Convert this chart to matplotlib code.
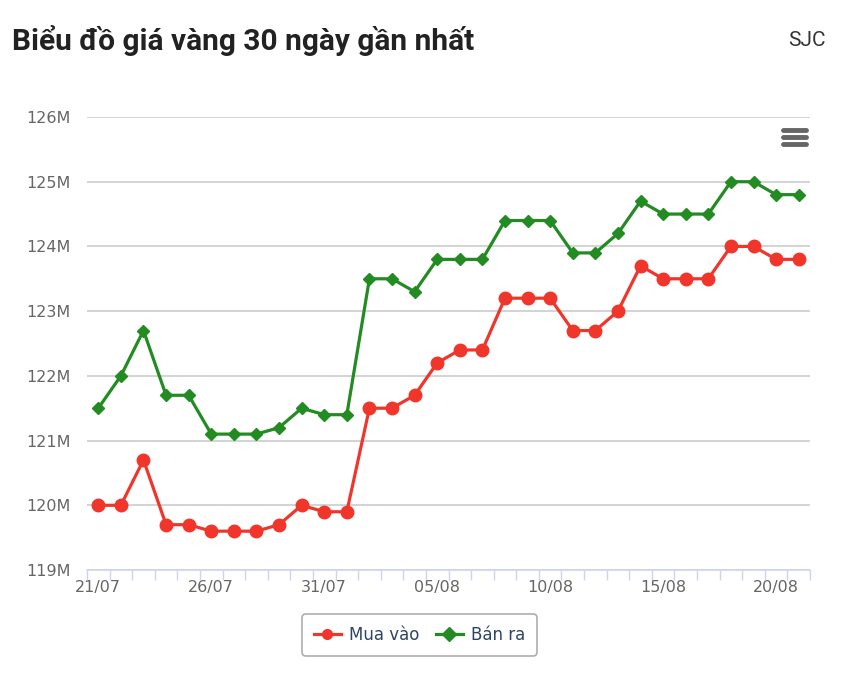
import numpy as np
import matplotlib
matplotlib.use("Agg")
import matplotlib.pyplot as plt
from matplotlib.lines import Line2D

plt.rcParams["font.family"] = ["DejaVu Sans"]

# dữ liệu (triệu đồng)
dates = ["21/07", "22/07", "23/07", "24/07", "25/07", "26/07", "27/07", "28/07",
         "29/07", "30/07", "31/07", "01/08", "02/08", "03/08", "04/08", "05/08",
         "06/08", "07/08", "08/08", "09/08", "10/08", "11/08", "12/08", "13/08",
         "14/08", "15/08", "16/08", "17/08", "18/08", "19/08", "20/08", "21/08"]
mua_vao = [120.0, 120.0, 120.7, 119.7, 119.7, 119.6, 119.6, 119.6,
           119.7, 120.0, 119.9, 119.9, 121.5, 121.5, 121.7, 122.2,
           122.4, 122.4, 123.2, 123.2, 123.2, 122.7, 122.7, 123.0,
           123.7, 123.5, 123.5, 123.5, 124.0, 124.0, 123.8, 123.8]
ban_ra = [121.5, 122.0, 122.7, 121.7, 121.7, 121.1, 121.1, 121.1,
          121.2, 121.5, 121.4, 121.4, 123.5, 123.5, 123.3, 123.8,
          123.8, 123.8, 124.4, 124.4, 124.4, 123.9, 123.9, 124.2,
          124.7, 124.5, 124.5, 124.5, 125.0, 125.0, 124.8, 124.8]
y_ticks = [119, 120, 121, 122, 123, 124, 125, 126]

x = np.arange(len(dates))

fig = plt.figure(figsize=(8.42, 6.73), dpi=100)
ax = fig.add_axes([87 / 842, 103 / 673, 723 / 842, 453 / 673])

ax.plot(x, mua_vao, color="#f0362b", lw=2.3, marker="o", ms=9,
        label="Mua vào", zorder=3)
ax.plot(x, ban_ra, color="#228b22", lw=2.3, marker="D", ms=6.5,
        label="Bán ra", zorder=3)

ax.set_xlim(-0.5, len(dates) - 0.5)
ax.set_ylim(119, 126)
ax.set_yticks(y_ticks)
ax.set_yticklabels([f"{v}M" for v in y_ticks])
ax.set_xticks(x[::5])
ax.set_xticklabels(dates[::5])
ax.set_xticks(np.arange(-0.5, len(dates), 1), minor=True)

ax.grid(axis="y", color="#cccccc", lw=1.2)
ax.set_axisbelow(True)
for s in ["top", "right", "left"]:
    ax.spines[s].set_visible(False)
ax.spines["bottom"].set_color("#ccd6eb")
ax.spines["bottom"].set_linewidth(1.2)

ax.tick_params(axis="y", length=0, pad=12, labelsize=11.5, labelcolor="#666666")
ax.tick_params(axis="x", which="major", length=0, pad=7, labelsize=11.5,
               labelcolor="#666666")
ax.tick_params(axis="x", which="minor", length=7, width=1, color="#ccd6eb")

fig.text(12 / 842, 1 - 40 / 673, "Biểu đồ giá vàng 30 ngày gần nhất",
         fontsize=21.5, fontweight="bold", family="Roboto", color="#222222",
         va="center", ha="left")
fig.text(826 / 842, 1 - 40 / 673, "SJC", fontsize=15, family="Roboto",
         color="#333333", va="center", ha="right")

# nút menu
for yy in [130, 137, 144]:
    fig.add_artist(Line2D([783 / 842, 806 / 842], [1 - yy / 673] * 2,
                          color="#666666", lw=3.5, solid_capstyle="round"))

leg = fig.legend(loc="center", bbox_to_anchor=(419.5 / 842, 1 - 635 / 673),
                 ncol=2, fontsize=12, frameon=True, fancybox=True,
                 edgecolor="#999999", handlelength=1.6, columnspacing=1.0,
                 handletextpad=0.5, borderpad=0.7)
leg.get_frame().set_linewidth(1.2)
for t in leg.get_texts():
    t.set_color("#2e4466")
for h in leg.legend_handles:
    h.set_markersize(7)

fig.savefig("out.png", dpi=100)
